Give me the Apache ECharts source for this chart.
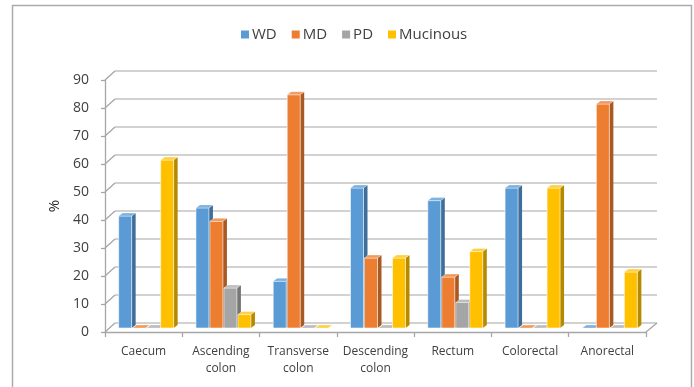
<!DOCTYPE html>
<html>
<head>
<meta charset="utf-8">
<script src="https://cdn.jsdelivr.net/npm/echarts@6/dist/echarts.min.js"></script>
<style>
  html, body { margin: 0; padding: 0; background: #fff; }
  #chart { width: 694px; height: 387px; }
</style>
</head>
<body>
<div id="chart"></div>
<script>
// Histological type distribution (%) by tumour site
var categories = ['Caecum', 'Ascending\ncolon', 'Transverse\ncolon', 'Descending\ncolon', 'Rectum', 'Colorectal', 'Anorectal'];
var seriesNames = ['WD', 'MD', 'PD', 'Mucinous'];
var wdValues = [40, 42.9, 16.7, 50, 45.5, 50, 0];
var mdValues = [0, 38.1, 83.3, 25, 18.2, 0, 80];
var pdValues = [0, 14.3, 0, 0, 9.1, 0, 0];
var mucinousValues = [60, 4.8, 0, 25, 27.3, 50, 20];
var yTicks = [0, 10, 20, 30, 40, 50, 60, 70, 80, 90];

// face colours: front, top, side
var palette = [
  { front: '#5B9BD5', top: '#7DB1E0', side: '#3F6E9A' },
  { front: '#ED7D31', top: '#F29A5C', side: '#A95A22' },
  { front: '#A5A5A5', top: '#BDBDBD', side: '#767676' },
  { front: '#FFC000', top: '#FFD044', side: '#B58900' }
];

// pseudo-3D geometry (pixels)
var WALL_DX = 10, WALL_DY = 9;   // depth of back wall
var MID_DX = 5, MID_DY = 4;      // bars sit midway in depth
var BAR_W = 13, BAR_PITCH = 14, SIDE_DX = 4, SIDE_DY = 3;

function barRenderer(si) {
  return function (params, api) {
    var cat = api.value(0), v = api.value(1);
    var top = api.coord([cat, v]);
    var base = api.coord([cat, 0]);
    var x0 = top[0] + MID_DX - 30 + BAR_PITCH * si;
    var x1 = x0 + BAR_W;
    var yt = top[1] - MID_DY;
    var yb = base[1] - MID_DY;
    var col = palette[si];
    var children = [];
    // side face
    children.push({
      type: 'polygon',
      shape: { points: [[x1, yt], [x1 + SIDE_DX, yt - SIDE_DY], [x1 + SIDE_DX, yb - SIDE_DY], [x1, yb]] },
      style: { fill: col.side }
    });
    // front face
    if (yb - yt > 0.5) {
      children.push({
        type: 'rect',
        shape: { x: x0, y: yt, width: BAR_W, height: yb - yt },
        style: { fill: col.front, stroke: 'rgba(255,255,255,0.55)', lineWidth: 1 }
      });
    }
    // top face
    children.push({
      type: 'polygon',
      shape: { points: [[x0, yt], [x1, yt], [x1 + SIDE_DX, yt - SIDE_DY], [x0 + SIDE_DX, yt - SIDE_DY]] },
      style: { fill: col.top, stroke: 'rgba(255,255,255,0.5)', lineWidth: 0.6 }
    });
    return { type: 'group', children: children };
  };
}

function pairs(values) {
  return values.map(function (v, i) { return [i, v]; });
}

var valueLists = [wdValues, mdValues, pdValues, mucinousValues];
var barSeries = seriesNames.map(function (name, si) {
  return {
    name: name,
    type: 'custom',
    xAxisIndex: 1,
    yAxisIndex: 1,
    z: 5,
    itemStyle: { color: palette[si].front },
    encode: { x: 0, y: 1 },
    renderItem: barRenderer(si),
    data: pairs(valueLists[si])
  };
});

// diagonal edges joining front axes to the back wall and floor
var wallSeries = {
  name: 'wall',
  type: 'custom',
  xAxisIndex: 1,
  yAxisIndex: 1,
  silent: true,
  z: 1,
  encode: { y: 0 },
  renderItem: function (params, api) {
    var v = api.value(0);
    var cs = params.coordSys;
    var y = api.coord([0, v])[1];
    var style = { stroke: '#A6A6A6', lineWidth: 1.3 };
    var children = [{
      type: 'line',
      shape: { x1: cs.x, y1: y, x2: cs.x + WALL_DX, y2: y - WALL_DY },
      style: style
    }];
    if (v === 0) {
      children.push({
        type: 'line',
        shape: { x1: cs.x + cs.width, y1: y, x2: cs.x + cs.width + WALL_DX + 1, y2: y - WALL_DY },
        style: style
      });
    }
    return { type: 'group', children: children };
  },
  data: yTicks.map(function (t) { return [t]; })
};

var chart = echarts.init(document.getElementById('chart'), null, { renderer: 'canvas' });
var font = '"Open Sans", Lato, sans-serif';

chart.setOption({
  animation: false,
  backgroundColor: '#ffffff',
  textStyle: { fontFamily: font },
  graphic: [{
    type: 'rect',
    shape: { x: 12.5, y: 5.5, width: 679, height: 400 },
    style: { fill: 'none', stroke: '#ABABAB', lineWidth: 1.5 },
    z: 0
  }],
  legend: {
    data: seriesNames,
    top: 22,
    left: 236,
    icon: 'rect',
    itemWidth: 8,
    itemHeight: 8,
    itemGap: 15,
    textStyle: { fontFamily: font, fontSize: 15, color: '#404040', padding: [0, 0, 0, -2] }
  },
  grid: [
    { left: 115, right: 37, top: 71, bottom: 64, containLabel: false },
    { left: 105, right: 48, top: 80, bottom: 55, containLabel: false }
  ],
  xAxis: [
    { type: 'category', gridIndex: 0, data: categories, show: false },
    {
      type: 'category',
      gridIndex: 1,
      data: categories,
      axisLine: { show: true, lineStyle: { color: '#A6A6A6', width: 1.3 } },
      axisTick: { show: true, length: 5, lineStyle: { color: '#A6A6A6', width: 1.3 } },
      axisLabel: { color: '#404040', fontSize: 12, fontFamily: font, margin: 11, lineHeight: 17, interval: 0 }
    }
  ],
  yAxis: [
    {
      type: 'value',
      gridIndex: 0,
      min: 0, max: 90, interval: 10,
      axisLine: { show: false },
      axisTick: { show: false },
      axisLabel: { show: false },
      splitLine: { show: true, lineStyle: { color: '#C3C3C3', width: 1.6 } }
    },
    {
      type: 'value',
      gridIndex: 1,
      min: 0, max: 90, interval: 10,
      name: '%',
      nameLocation: 'middle',
      nameRotate: 90,
      nameGap: 43,
      nameTextStyle: { color: '#262626', fontSize: 15, fontFamily: font },
      axisLine: { show: true, lineStyle: { color: '#A6A6A6', width: 1.3 } },
      axisTick: { show: true, length: 4, lineStyle: { color: '#A6A6A6', width: 1.3 } },
      axisLabel: { color: '#404040', fontSize: 14, fontFamily: font, margin: 16 },
      splitLine: { show: false }
    }
  ],
  series: [wallSeries].concat(barSeries)
});
</script>
</body>
</html>
